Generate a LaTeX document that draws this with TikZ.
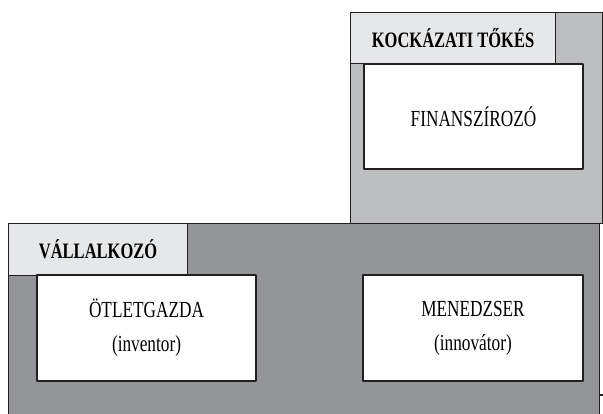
\documentclass[tikz,border=0pt]{standalone}
\usepackage{fontspec}
\setmainfont[FakeStretch=0.75]{Liberation Serif}
\usetikzlibrary{positioning}
\definecolor{vonal}{HTML}{231F20}
\definecolor{sotet}{HTML}{939598}
\definecolor{kozep}{HTML}{BCBEC0}
\definecolor{halvany}{HTML}{E6E7E8}
\tikzset{
  keret/.style={draw=vonal, line width=1.1pt, rectangle, inner sep=0pt},
  cimke/.style={keret, fill=halvany, anchor=north west, font=\fontsize{22}{26}\selectfont\bfseries},
  doboz/.style={keret, fill=white, align=center, font=\fontsize{23}{34}\selectfont},
}
\begin{document}
\begin{tikzpicture}[x=1pt, y=-1pt, line join=round]
	\useasboundingbox (0,0) rectangle (603,413);
	\clip (0,0) rectangle (603,413);
	% kockazati toke
	\node[keret, fill=kozep, anchor=north west, minimum width=252pt, minimum height=211pt] (tokes) at (350,12) {};
	\node[cimke, minimum width=205pt, minimum height=51pt] (tokescim) at (350,12) {KOCKÁZATI TŐKÉS};
	\node[doboz, minimum width=219pt, minimum height=105pt] (finansz) at (473.5,116.5) {FINANSZÍROZÓ};
	% vallalkozo
	\node[keret, fill=sotet, anchor=north west, minimum width=591pt, minimum height=200pt] (vallalkozo) at (8,223) {};
	\node[cimke, minimum width=179pt, minimum height=52pt] (vallcim) at (8,223) {VÁLLALKOZÓ};
	\node[doboz, minimum width=219pt, minimum height=106pt] (otlet) at (146.5,328) {ÖTLETGAZDA\\(inventor)};
	\node[doboz, minimum width=220pt, minimum height=106pt] (menedzser) at (473,328) {MENEDZSER\\(innovátor)};
	\coordinate (csonk) at (603,395);
	\draw[vonal, line width=1.1pt] (vallalkozo.east |- csonk) -- (csonk);
\end{tikzpicture}
\end{document}
